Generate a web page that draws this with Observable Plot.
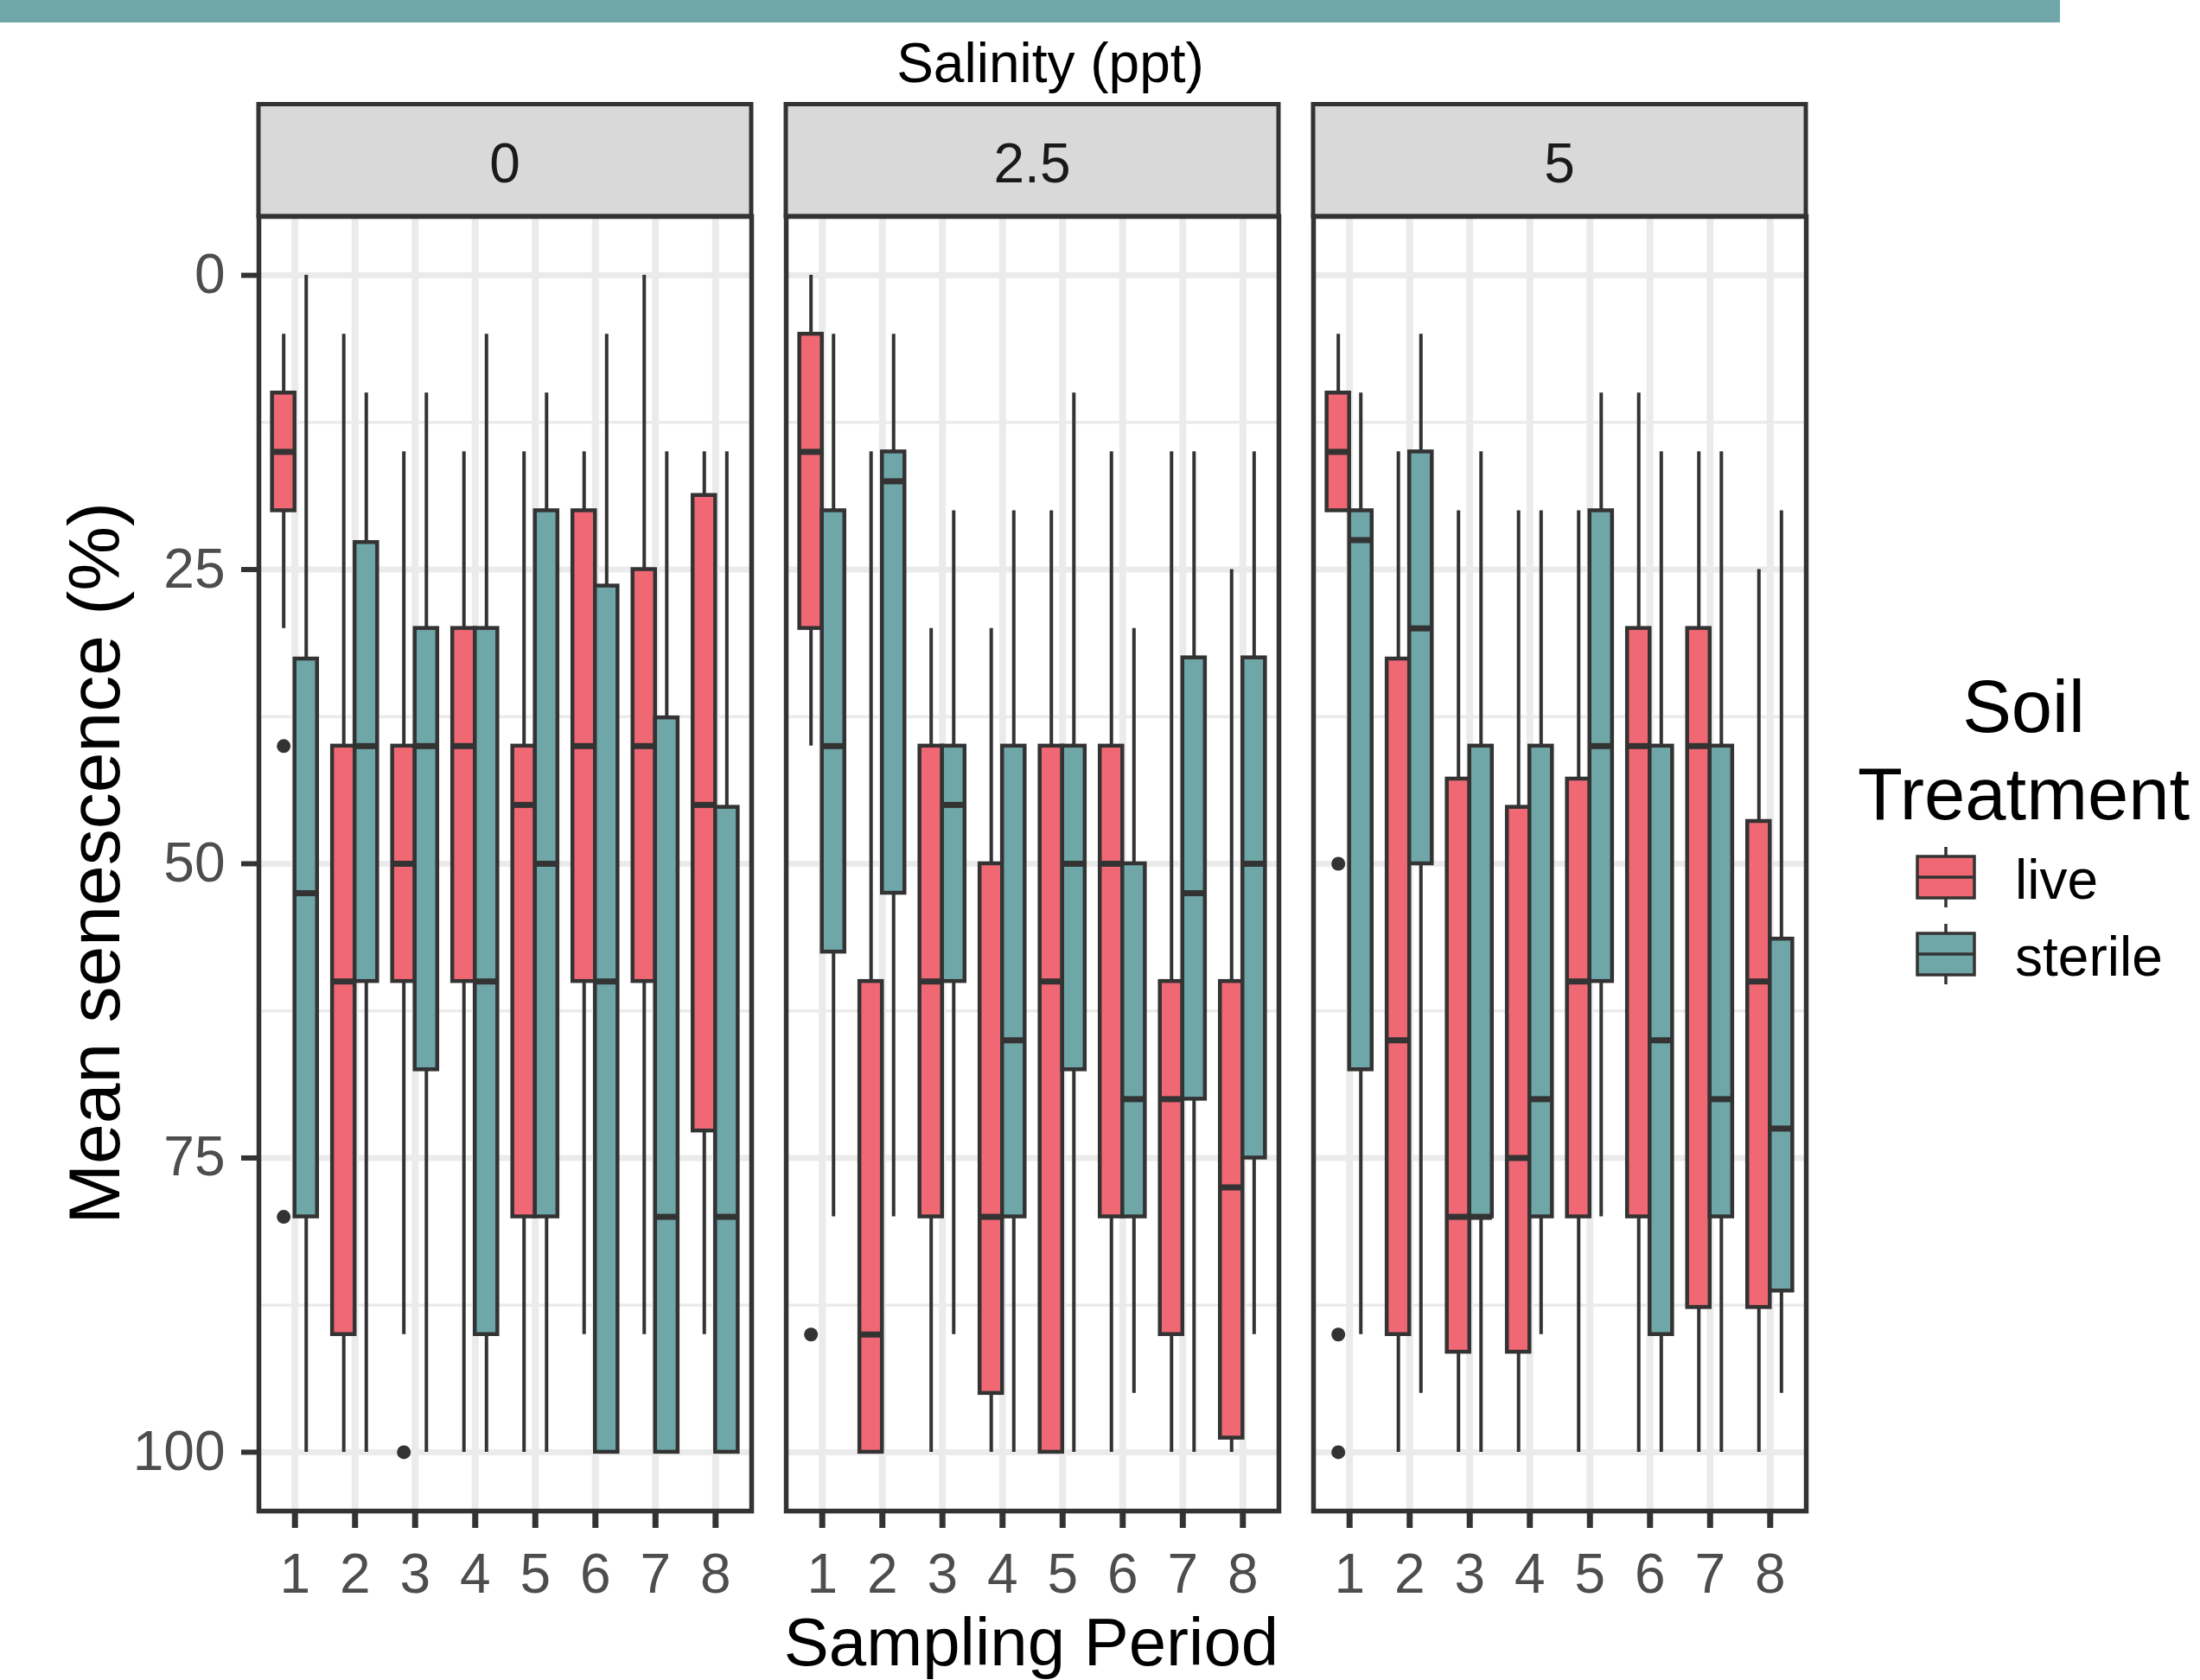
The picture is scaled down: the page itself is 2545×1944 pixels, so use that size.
<!DOCTYPE html>
<html><head><meta charset="utf-8">
<script src="https://cdn.jsdelivr.net/npm/d3@7"></script>
<script src="https://cdn.jsdelivr.net/npm/@observablehq/plot@0.6"></script>
<style>
html,body{margin:0;padding:0;background:#fff;}
#chart{position:relative;width:2545px;height:1944px;}
</style></head><body><div id="chart"></div>
<script>
// ---- data ----
const salinity = ["0", "2.5", "5"];
const periods = [1, 2, 3, 4, 5, 6, 7, 8];
const treatments = ["live", "sterile"];
const treatmentColors = ["#F06873", "#6FA6A8"];
const yTicks = [0, 25, 50, 75, 100];
const yMinorTicks = [12.5, 37.5, 62.5, 87.5];

// rows per period: [lower whisker, q1, median, q3, upper whisker] (mean senescence %)
const live_0 = [
  [5, 10, 15, 20, 30],
  [5, 40, 60, 90, 100],
  [15, 40, 50, 60, 90],
  [15, 30, 40, 60, 100],
  [15, 40, 45, 80, 100],
  [15, 20, 40, 60, 90],
  [0, 25, 40, 60, 90],
  [15, 18.7, 45, 72.7, 90]
];
const sterile_0 = [
  [0, 32.6, 52.5, 80, 100],
  [10, 22.7, 40, 60, 100],
  [10, 30, 40, 67.5, 100],
  [5, 30, 60, 90, 100],
  [10, 20, 50, 80, 100],
  [5, 26.4, 60, 100, 100],
  [15, 37.6, 80, 100, 100],
  [15, 45.2, 80, 100, 100]
];
const live_25 = [
  [0, 5, 15, 30, 40],
  [15, 60, 90, 100, 100],
  [30, 40, 60, 80, 100],
  [30, 50, 80, 95, 100],
  [20, 40, 60, 100, 100],
  [15, 40, 50, 80, 100],
  [15, 60, 70, 90, 100],
  [25, 60, 77.5, 98.8, 100]
];
const sterile_25 = [
  [5, 20, 40, 57.5, 80],
  [5, 15, 17.5, 52.5, 80],
  [20, 40, 45, 60, 90],
  [20, 40, 65, 80, 100],
  [10, 40, 50, 67.5, 100],
  [30, 50, 70, 80, 95],
  [15, 32.5, 52.5, 70, 100],
  [15, 32.5, 50, 75, 90]
];
const live_5 = [
  [5, 10, 15, 20, 20],
  [15, 32.6, 65, 90, 100],
  [20, 42.8, 80, 91.5, 100],
  [20, 45.2, 75, 91.5, 100],
  [20, 42.8, 60, 80, 100],
  [10, 30, 40, 80, 100],
  [15, 30, 40, 87.7, 100],
  [25, 46.4, 60, 87.7, 100]
];
const sterile_5 = [
  [10, 20, 22.5, 67.5, 90],
  [5, 15, 30, 50, 95],
  [15, 40, 80, 80, 100],
  [20, 40, 70, 80, 90],
  [10, 20, 40, 60, 80],
  [15, 40, 65, 90, 100],
  [15, 40, 70, 80, 100],
  [20, 56.4, 72.5, 86.3, 95]
];

const outlierSalinity = ["0", "0", "0", "2.5", "5", "5", "5"];
const outlierPeriod = [1, 1, 3, 1, 1, 1, 1];
const outlierTreatment = ["live", "live", "live", "live", "live", "live", "live"];
const outlierValue = [40, 80, 100, 90, 50, 90, 100];

// ---- build tables ----
const seriesBy = {
  live: {"0": live_0, "2.5": live_25, "5": live_5},
  sterile: {"0": sterile_0, "2.5": sterile_25, "5": sterile_5}
};
const boxes = [];
for (const s of salinity) for (const t of treatments) {
  seriesBy[t][s].forEach((r, i) => boxes.push({
    salinity: s, treatment: t, period: periods[i],
    lo: r[0], q1: r[1], med: r[2], q3: r[3], hi: r[4]
  }));
}
const outliers = outlierValue.map((v, i) => ({
  salinity: outlierSalinity[i], period: outlierPeriod[i], treatment: outlierTreatment[i], value: v
}));

const half = 0.1875; // half of a dodged box width (0.75 / 2 / 2)
const xc = d => d.period + (d.treatment === treatments[0] ? -half : half);

const ink = "#333333";
const font = "'Liberation Sans', Arial, Helvetica, sans-serif";

const plot = Plot.plot({
  width: 2545,
  height: 1944,
  marginTop: 250,
  marginBottom: 196,
  marginLeft: 299,
  marginRight: 456,
  style: {fontFamily: font, background: "#fff", overflow: "visible"},
  fx: {domain: salinity, paddingInner: 0.0663, paddingOuter: 0, axis: null, label: null},
  x: {domain: [0.4, 8.6], label: null},
  y: {domain: [-5, 105], reverse: true, label: null},
  color: {domain: treatments, range: treatmentColors},
  marks: [
    Plot.gridY(yMinorTicks, {stroke: "#EBEBEB", strokeOpacity: 1, strokeWidth: 3.5}),
    Plot.gridY(yTicks, {stroke: "#EBEBEB", strokeOpacity: 1, strokeWidth: 7}),
    Plot.gridX(periods, {stroke: "#EBEBEB", strokeOpacity: 1, strokeWidth: 8}),
    Plot.ruleX(boxes, {fx: "salinity", x: xc, y1: "lo", y2: "hi", stroke: ink, strokeWidth: 4}),
    Plot.rect(boxes, {fx: "salinity", x1: d => xc(d) - half, x2: d => xc(d) + half, y1: "q1", y2: "q3",
      fill: "treatment", stroke: ink, strokeWidth: 4.5}),
    Plot.ruleY(boxes, {fx: "salinity", x1: d => xc(d) - half, x2: d => xc(d) + half, y: "med",
      stroke: ink, strokeWidth: 7}),
    Plot.dot(outliers, {fx: "salinity", x: xc, y: "value", r: 8, fill: ink, stroke: null}),
    Plot.frame({stroke: ink, strokeWidth: 5.5}),
    Plot.axisY({ticks: yTicks, tickSize: 20, tickPadding: 19, fontSize: 64, stroke: ink, strokeWidth: 6,
      fill: "#4D4D4D", label: null}),
    Plot.axisX({ticks: periods, tickFormat: d => String(d), tickSize: 20, tickPadding: 29, fontSize: 64,
      stroke: ink, strokeWidth: 7, fill: "#4D4D4D", label: null})
  ]
});

document.getElementById("chart").appendChild(plot);

// ---- decorations drawn from the plot's own scales ----
const svg = d3.select(plot);
const fx = plot.scale("fx");
const color = plot.scale("color");

// top accent band
svg.insert("rect", ":first-child")
  .attr("x", 0).attr("y", 0).attr("width", 2383).attr("height", 26)
  .attr("fill", color.apply("sterile"));

// title
svg.append("text").attr("x", 1215).attr("y", 95).attr("text-anchor", "middle")
  .attr("font-size", 64).attr("fill", "#000").text("Salinity (ppt)");

// facet strips
const strips = svg.append("g");
for (const s of salinity) {
  const x0 = fx.apply(s), bw = fx.bandwidth;
  strips.append("rect").attr("x", x0).attr("y", 120.5).attr("width", bw).attr("height", 129.5)
    .attr("fill", "#D9D9D9").attr("stroke", ink).attr("stroke-width", 5);
  strips.append("text").attr("x", x0 + bw / 2).attr("y", 211).attr("text-anchor", "middle")
    .attr("font-size", 64).attr("fill", "#1A1A1A").text(s);
}

// axis titles
svg.append("text").attr("transform", "translate(138,999) rotate(-90)").attr("text-anchor", "middle")
  .attr("font-size", 84).attr("fill", "#000").text("Mean senescence (%)");
svg.append("text").attr("x", 1193).attr("y", 1927).attr("text-anchor", "middle")
  .attr("font-size", 78).attr("fill", "#000").text("Sampling Period");

// legend
const lg = svg.append("g");
lg.append("text").attr("x", 2341).attr("y", 847).attr("text-anchor", "middle")
  .attr("font-size", 85).attr("fill", "#000").text("Soil");
lg.append("text").attr("x", 2341).attr("y", 948).attr("text-anchor", "middle")
  .attr("font-size", 85).attr("fill", "#000").text("Treatment");
treatments.forEach((t, i) => {
  const top = 991 + i * 89;
  const g = lg.append("g");
  g.append("line").attr("x1", 2251).attr("x2", 2251).attr("y1", top - 11).attr("y2", top + 59)
    .attr("stroke", ink).attr("stroke-width", 3.5);
  g.append("rect").attr("x", 2218).attr("y", top).attr("width", 66).attr("height", 48)
    .attr("fill", color.apply(t)).attr("stroke", ink).attr("stroke-width", 3.5);
  g.append("line").attr("x1", 2218).attr("x2", 2284).attr("y1", top + 24).attr("y2", top + 24)
    .attr("stroke", ink).attr("stroke-width", 3.5);
  g.append("text").attr("x", 2331).attr("y", top + 49).attr("text-anchor", "start")
    .attr("font-size", 64).attr("fill", "#000").text(t);
});
</script>
</body></html>
